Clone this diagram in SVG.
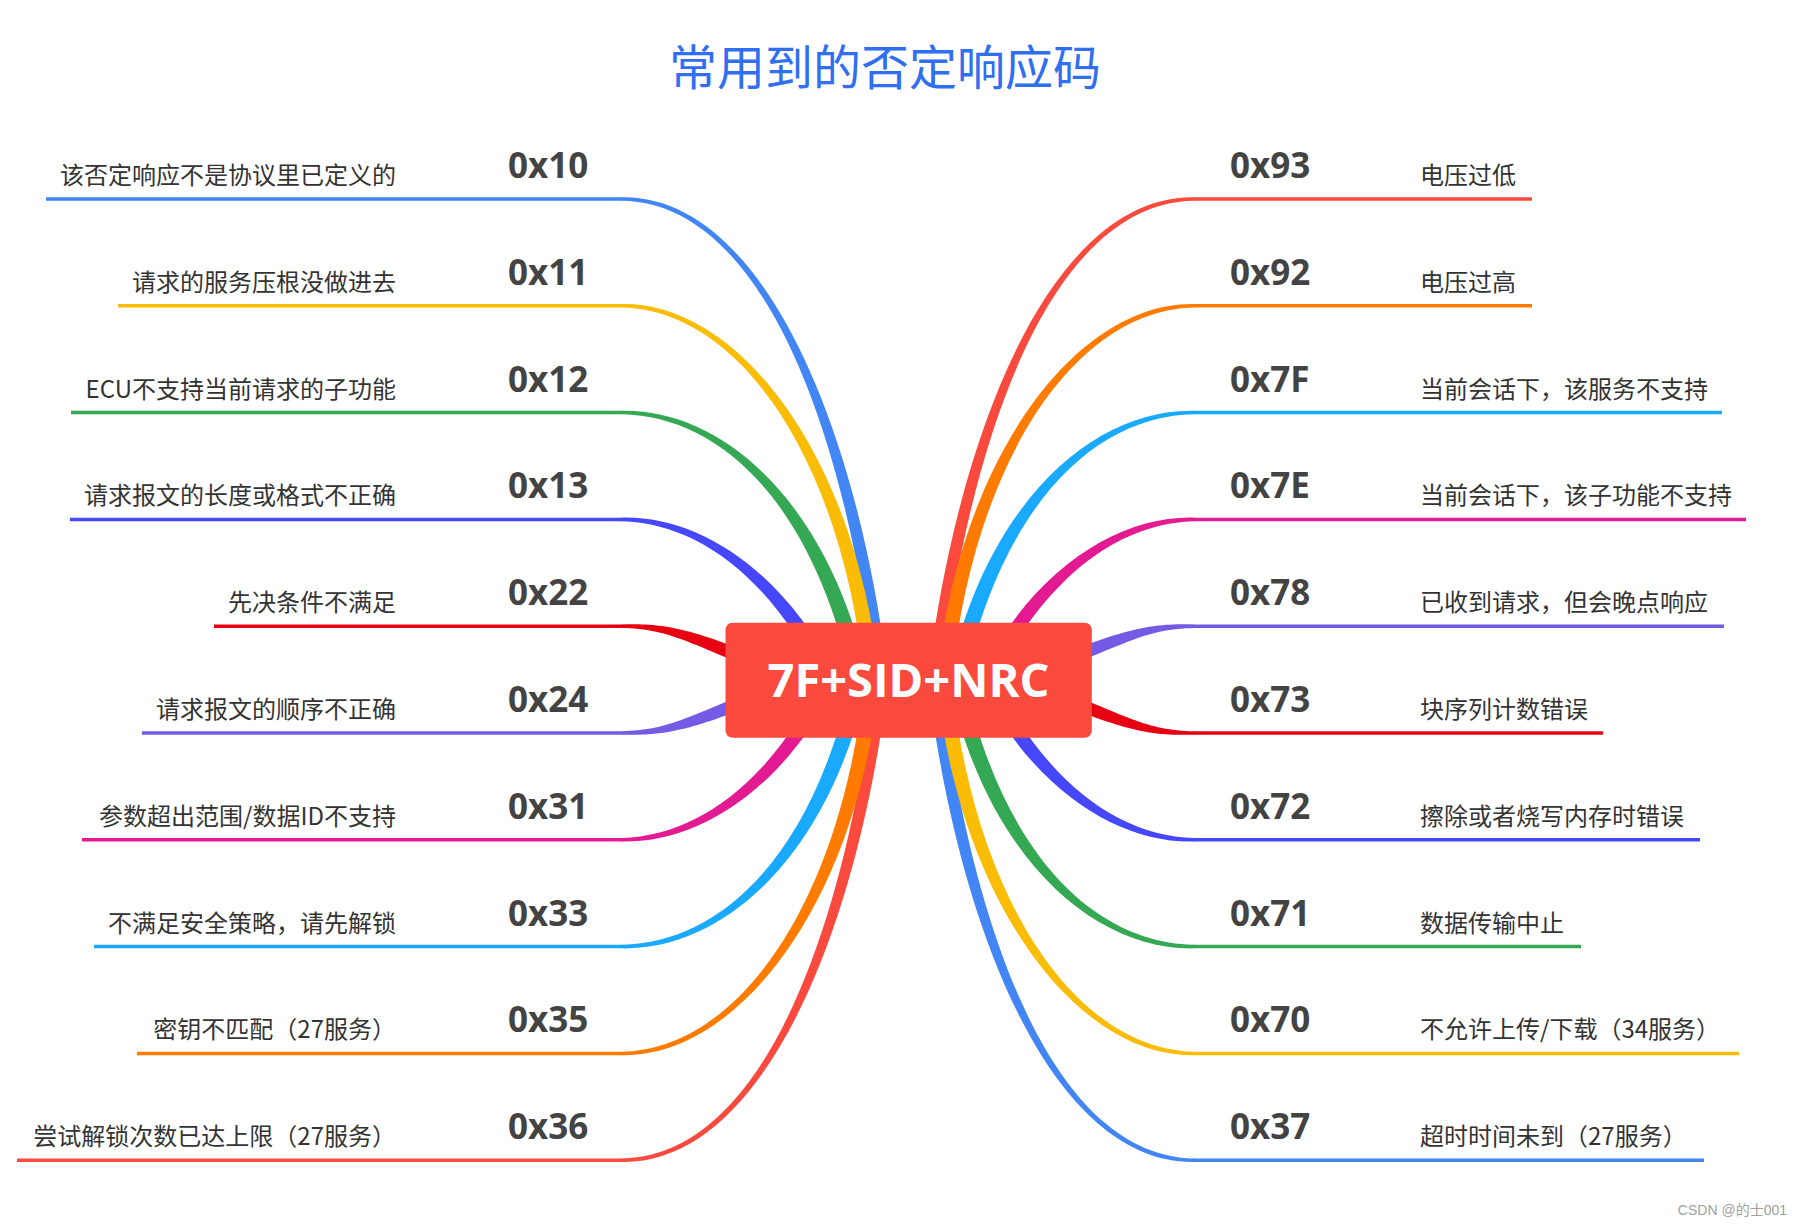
<svg xmlns="http://www.w3.org/2000/svg" xmlns:xlink="http://www.w3.org/1999/xlink" width="1802" height="1226" viewBox="0 0 1802 1226">
<style>
.title{font-family:"Noto Sans CJK SC","Noto Sans",sans-serif;font-size:48px;fill:#2f6ff0;text-anchor:middle}
.code{font-family:"Open Sans","Noto Sans",sans-serif;font-weight:700;font-size:35px;fill:#434343}
.desc{font-family:"Noto Sans CJK SC","Noto Sans",sans-serif;font-size:24px;fill:#333333}
.dl{text-anchor:end}
.ul{stroke-width:3.5;fill:none}
.center{font-family:"Open Sans","Noto Sans",sans-serif;font-weight:700;font-size:47px;fill:#ffffff;text-anchor:middle}
.wm{font-family:"Liberation Sans","Noto Sans CJK SC",sans-serif;font-size:14px;fill:#a0a0a0;text-anchor:end}
</style>
<defs>
<path id="t0" d="M622,197.25 C760,195.2 856.45,419.2 888.45,679.2 L875.55,680.8 C843.55,420.8 760,202.8 622,200.75 Z"/>
<path id="t1" d="M622,304.05 C740,302 857.46,459.25 879.46,679.25 L864.54,680.75 C842.54,460.75 740,309.6 622,307.55 Z"/>
<path id="t2" d="M622,410.85 C720,408.8 827.81,498.26 867.81,678.26 L852.19,681.74 C812.19,501.74 720,416.4 622,414.35 Z"/>
<path id="t3" d="M622,517.65 C695,515.6 781.71,566.65 836.71,676.65 L823.29,683.35 C768.29,573.35 695,523.2 622,521.15 Z"/>
<path id="t4" d="M622,624.45 C670,623.4 692.6,629.5 782.6,665.5 L777.4,678.5 C687.4,642.5 670,629 622,627.95 Z"/>
</defs>
<rect width="1802" height="1226" fill="#ffffff"/>
<text class="title" x="885" y="85">常用到的否定响应码</text>

<g id="connectors">
  <g id="left-top">
    <use xlink:href="#t0" fill="#4285f4"/>
    <use xlink:href="#t1" fill="#fbbc05"/>
    <use xlink:href="#t2" fill="#34a853"/>
    <use xlink:href="#t3" fill="#4646fb"/>
    <use xlink:href="#t4" fill="#e60012"/>
  </g>
  <g id="left-bottom" transform="matrix(1,0,0,-1,0,1359.2)">
    <use xlink:href="#t0" fill="#fa4a3e"/>
    <use xlink:href="#t1" fill="#ff7b00"/>
    <use xlink:href="#t2" fill="#19aaff"/>
    <use xlink:href="#t3" fill="#e31a91"/>
    <use xlink:href="#t4" fill="#745ae4"/>
  </g>
  <g id="right-top" transform="matrix(-1,0,0,1,1816,0)">
    <use xlink:href="#t0" fill="#fa4a3e"/>
    <use xlink:href="#t1" fill="#ff7b00"/>
    <use xlink:href="#t2" fill="#19aaff"/>
    <use xlink:href="#t3" fill="#e31a91"/>
    <use xlink:href="#t4" fill="#745ae4"/>
  </g>
  <g id="right-bottom" transform="matrix(-1,0,0,-1,1816,1359.2)">
    <use xlink:href="#t0" fill="#4285f4"/>
    <use xlink:href="#t1" fill="#fbbc05"/>
    <use xlink:href="#t2" fill="#34a853"/>
    <use xlink:href="#t3" fill="#4646fb"/>
    <use xlink:href="#t4" fill="#e60012"/>
  </g>
</g>

<g id="center-node">
  <rect x="725.5" y="622.7" width="366.3" height="115" rx="7" fill="#fa4a3e"/>
  <text class="center" x="908.5" y="697">7F+SID+NRC</text>
</g>

<g id="node-0x10"><line class="ul" x1="46" y1="199" x2="623" y2="199" stroke="#4285f4"/><text class="code" x="508" y="178">0x10</text><text class="desc dl" x="396" y="184">该否定响应不是协议里已定义的</text></g>
<g id="node-0x11"><line class="ul" x1="118" y1="305.8" x2="623" y2="305.8" stroke="#fbbc05"/><text class="code" x="508" y="284.8">0x11</text><text class="desc dl" x="396" y="290.8">请求的服务压根没做进去</text></g>
<g id="node-0x12"><line class="ul" x1="71" y1="412.6" x2="623" y2="412.6" stroke="#34a853"/><text class="code" x="508" y="391.6">0x12</text><text class="desc dl" x="396" y="397.6">ECU不支持当前请求的子功能</text></g>
<g id="node-0x13"><line class="ul" x1="70" y1="519.4" x2="623" y2="519.4" stroke="#4646fb"/><text class="code" x="508" y="498.4">0x13</text><text class="desc dl" x="396" y="504.4">请求报文的长度或格式不正确</text></g>
<g id="node-0x22"><line class="ul" x1="214" y1="626.2" x2="623" y2="626.2" stroke="#e60012"/><text class="code" x="508" y="605.2">0x22</text><text class="desc dl" x="396" y="611.2">先决条件不满足</text></g>
<g id="node-0x24"><line class="ul" x1="142" y1="733" x2="623" y2="733" stroke="#745ae4"/><text class="code" x="508" y="712">0x24</text><text class="desc dl" x="396" y="718">请求报文的顺序不正确</text></g>
<g id="node-0x31"><line class="ul" x1="82" y1="839.8" x2="623" y2="839.8" stroke="#e31a91"/><text class="code" x="508" y="818.8">0x31</text><text class="desc dl" x="396" y="824.8">参数超出范围/数据ID不支持</text></g>
<g id="node-0x33"><line class="ul" x1="94" y1="946.6" x2="623" y2="946.6" stroke="#19aaff"/><text class="code" x="508" y="925.6">0x33</text><text class="desc dl" x="396" y="931.6">不满足安全策略，请先解锁</text></g>
<g id="node-0x35"><line class="ul" x1="137" y1="1053.4" x2="623" y2="1053.4" stroke="#ff7b00"/><text class="code" x="508" y="1032.4">0x35</text><text class="desc dl" x="396" y="1038.4">密钥不匹配（27服务）</text></g>
<g id="node-0x36"><line class="ul" x1="17" y1="1160.2" x2="623" y2="1160.2" stroke="#fa4a3e"/><text class="code" x="508" y="1139.2">0x36</text><text class="desc dl" x="396" y="1145.2">尝试解锁次数已达上限（27服务）</text></g>

<g id="node-0x93"><line class="ul" x1="1193" y1="199" x2="1532" y2="199" stroke="#fa4a3e"/><text class="code" x="1230" y="178">0x93</text><text class="desc" x="1420" y="184">电压过低</text></g>
<g id="node-0x92"><line class="ul" x1="1193" y1="305.8" x2="1532" y2="305.8" stroke="#ff7b00"/><text class="code" x="1230" y="284.8">0x92</text><text class="desc" x="1420" y="290.8">电压过高</text></g>
<g id="node-0x7F"><line class="ul" x1="1193" y1="412.6" x2="1722" y2="412.6" stroke="#19aaff"/><text class="code" x="1230" y="391.6">0x7F</text><text class="desc" x="1420" y="397.6">当前会话下，该服务不支持</text></g>
<g id="node-0x7E"><line class="ul" x1="1193" y1="519.4" x2="1746" y2="519.4" stroke="#e31a91"/><text class="code" x="1230" y="498.4">0x7E</text><text class="desc" x="1420" y="504.4">当前会话下，该子功能不支持</text></g>
<g id="node-0x78"><line class="ul" x1="1193" y1="626.2" x2="1724" y2="626.2" stroke="#745ae4"/><text class="code" x="1230" y="605.2">0x78</text><text class="desc" x="1420" y="611.2">已收到请求，但会晚点响应</text></g>
<g id="node-0x73"><line class="ul" x1="1193" y1="733" x2="1603" y2="733" stroke="#e60012"/><text class="code" x="1230" y="712">0x73</text><text class="desc" x="1420" y="718">块序列计数错误</text></g>
<g id="node-0x72"><line class="ul" x1="1193" y1="839.8" x2="1700" y2="839.8" stroke="#4646fb"/><text class="code" x="1230" y="818.8">0x72</text><text class="desc" x="1420" y="824.8">擦除或者烧写内存时错误</text></g>
<g id="node-0x71"><line class="ul" x1="1193" y1="946.6" x2="1581" y2="946.6" stroke="#34a853"/><text class="code" x="1230" y="925.6">0x71</text><text class="desc" x="1420" y="931.6">数据传输中止</text></g>
<g id="node-0x70"><line class="ul" x1="1193" y1="1053.4" x2="1739" y2="1053.4" stroke="#fbbc05"/><text class="code" x="1230" y="1032.4">0x70</text><text class="desc" x="1420" y="1038.4">不允许上传/下载（34服务）</text></g>
<g id="node-0x37"><line class="ul" x1="1193" y1="1160.2" x2="1704" y2="1160.2" stroke="#4285f4"/><text class="code" x="1230" y="1139.2">0x37</text><text class="desc" x="1420" y="1145.2">超时时间未到（27服务）</text></g>

<text class="wm" x="1787" y="1215">CSDN @的士001</text>
</svg>
